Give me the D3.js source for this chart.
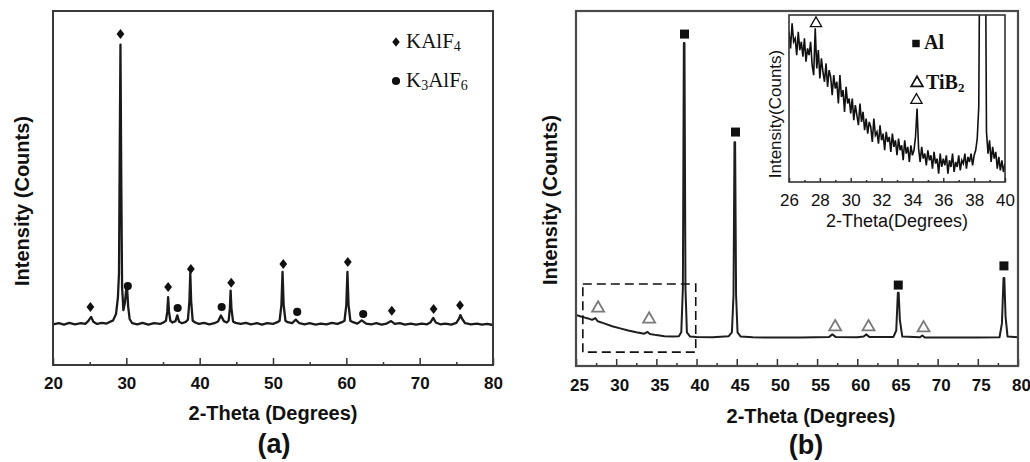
<!DOCTYPE html>
<html>
<head>
<meta charset="utf-8">
<script src="https://cdn.jsdelivr.net/npm/d3@7"></script>
<style>
  body { margin: 0; background: #fff; }
  svg { display: block; }
</style>
</head>
<body>
<div id="chart"></div>
<script>
// ---- panel (a): KAlF4 / K3AlF6 pattern ----
const aTheta = [20, 20.8, 21.5, 22.2, 23, 23.8, 24.4, 24.8, 25.2, 25.5, 26, 26.7, 27.3, 27.8, 28.2, 28.6, 28.85, 29.0, 29.1, 29.2, 29.3, 29.42, 29.6, 29.8, 30.0, 30.1, 30.25, 30.45, 30.8,
  31.5, 32.2, 33, 33.8, 34.6, 35.1, 35.4, 35.58, 35.7, 35.82, 36.0, 36.3, 36.7, 36.95, 37.2, 37.6, 38.1, 38.4, 38.6, 38.72, 38.84, 39.05, 39.4, 39.9,
  40.6, 41.3, 42, 42.5, 42.9, 43.3, 43.7, 43.95, 44.12, 44.22, 44.33, 44.55, 44.9, 45.6, 46.3, 47, 47.8, 48.5, 49.2, 50, 50.6, 50.9, 51.15, 51.3, 51.45, 51.7, 52, 52.6, 53.1, 53.6,
  54.3, 55, 55.8, 56.5, 57.3, 58, 58.8, 59.4, 59.75, 60.0, 60.15, 60.3, 60.55, 60.9, 61.5, 62.1, 62.7, 63.4, 64.1, 64.8, 65.5, 66.1, 66.6, 67.3, 68, 68.8, 69.5,
  70.3, 71, 71.5, 71.85, 72.2, 72.8, 73.5, 74.3, 75, 75.35, 75.55, 75.8, 76.2, 77, 77.8, 78.5, 79.2, 80];
const aCounts = [11.5, 11.8, 11.4, 11.9, 11.5, 11.8, 11.6, 12.4, 13.6, 12.2, 11.6, 11.9, 11.7, 12.2, 12.6, 14.5, 19, 26, 60, 90.5, 55, 22, 15.5, 17.5, 21.8, 21.8, 16.5, 13, 11.8,
  11.5, 11.9, 11.4, 11.8, 11.6, 12.1, 12.5, 15, 19.2, 15, 12.5, 12, 12.4, 14, 12.2, 11.8, 12.2, 12.8, 18, 26, 18, 12.5, 12, 11.6,
  11.9, 11.5, 11.8, 12.3, 14, 12.4, 12, 12.5, 16, 21, 16, 12.3, 11.9, 11.6, 11.9, 11.5, 11.8, 11.4, 11.8, 11.6, 12.1, 12.5, 17, 26.3, 17, 12.5, 12.1, 11.8, 12.8, 11.8,
  11.5, 11.8, 11.4, 11.7, 11.5, 11.9, 11.6, 12.1, 12.5, 17, 26.3, 17, 12.5, 12.1, 11.7, 12.6, 11.7, 11.5, 11.8, 11.4, 11.7, 12.4, 11.6, 11.8, 11.4, 11.7, 11.4,
  11.7, 11.5, 12.1, 13.3, 12.0, 11.5, 11.7, 11.4, 11.9, 13, 14.1, 13, 11.8, 11.5, 11.7, 11.4, 11.6, 11.3];
const aKAlF4Theta = [25.1, 29.2, 35.7, 38.8, 44.3, 51.4, 60.2, 66.2, 71.9, 75.5];
const aKAlF4Counts = [16.4, 93.5, 22, 27.1, 23.2, 28.5, 29.1, 15.3, 15.8, 16.9];
const aK3AlF6Theta = [30.2, 37.0, 43.0, 53.3, 62.3];
const aK3AlF6Counts = [22.3, 16.1, 16.4, 15, 14.4];
const aTicks = [20, 30, 40, 50, 60, 70, 80];
const aMinorTicks = [25, 35, 45, 55, 65, 75];

// ---- panel (b): Al / TiB2 pattern ----
const bTheta = [25, 25.5, 26, 26.5, 27, 27.4, 27.7, 28.5, 29.5, 30.5, 31.5, 32.5, 33.5, 33.9, 34.2, 35, 36, 37, 37.8, 38.1, 38.3, 38.42, 38.5, 38.62, 38.8, 39.2,
  40, 42, 44, 44.4, 44.6, 44.72, 44.8, 44.92, 45.1, 45.5, 47, 50, 53, 56.5, 56.9, 57.3, 60, 60.8, 61.1, 61.5, 64.5, 64.85, 65.05, 65.15, 65.3, 65.6,
  67.8, 68.1, 68.4, 71, 75, 77.7, 78.0, 78.2, 78.3, 78.45, 78.7, 80];
const bCounts = [14.4, 14.0, 13.7, 13.4, 13.0, 13.5, 12.6, 12.0, 11.2, 10.6, 10.0, 9.5, 9.1, 9.6, 9.0, 8.7, 8.4, 8.3, 8.4, 9.5, 22, 91, 91, 22, 9.5, 8.3,
  8.2, 8.1, 8.4, 9.5, 20, 63, 63, 20, 9.5, 8.3, 8.1, 8.0, 8.0, 8.2, 8.9, 8.2, 8.1, 8.3, 8.9, 8.2, 8.2, 10, 20.6, 20.6, 13, 8.3,
  8.1, 8.6, 8.0, 8.0, 8.0, 8.1, 12, 24.8, 24.8, 14, 8.3, 8.1];
const bAlTheta = [38.5, 44.85, 65.1, 78.25];
const bAlCounts = [93.5, 65.9, 22.8, 28.2];
const bTiB2Theta = [27.75, 34.1, 57.25, 61.4, 68.25];
const bTiB2Counts = [16.3, 13.2, 11, 11, 10.7];
const bTicks = [25, 30, 35, 40, 45, 50, 55, 60, 65, 70, 75, 80];
const bMinorTicks = [27.5, 32.5, 37.5, 42.5, 47.5, 52.5, 57.5, 62.5, 67.5, 72.5, 77.5];
const zoomBoxTheta = [25.85, 39.9];
const zoomBoxCounts = [3.9, 23.1];

// ---- inset of (b): 26-40 degrees ----
const insetStart = 26, insetStep = 0.1;
const insetCounts = [
  90, 80, 95, 84, 86, 76, 90, 79, 84, 75,
  86, 72, 80, 76, 84, 70, 64, 92, 68, 79,
  62, 74, 66, 60, 71, 57, 67, 63, 52, 64,
  56, 60, 47, 64, 51, 55, 42, 57, 47, 50,
  41, 50, 37, 46, 40, 34, 47, 36, 42, 31,
  38, 29, 36, 33, 24, 38, 28, 30, 23, 34,
  25, 29, 19, 30, 24, 27, 18, 29, 21, 25,
  16, 26, 19, 22, 13, 25, 17, 21, 12, 22,
  16, 19, 27, 44, 20, 12, 21, 14, 17, 10,
  19, 13, 16, 8, 18, 11, 14, 5, 17, 9,
  14, 10, 16, 5, 13, 9, 17, 6, 12, 9,
  16, 7, 13, 11, 17, 8, 15, 12, 17, 10,
  16, 19, 26, 45, 200, 220, 220, 200, 30, 17,
  25, 12, 21, 14, 18, 8, 15, 7, 13, 6,
  11];
const insetTiB2Theta = [27.75, 34.26];
const insetTiB2Counts = [95, 49];
const insetTicks = [26, 28, 30, 32, 34, 36, 38, 40];
const insetMinorTicks = [27, 29, 31, 33, 35, 37, 39];

const SANS = "'Liberation Sans', Arial, sans-serif";
const SERIF = "'Liberation Serif', 'Times New Roman', serif";

const svg = d3.select("#chart").append("svg").attr("width", 1030).attr("height", 462);

// tall diamond like the original markers
const tallDiamond = {
  draw(ctx, size) {
    const h = Math.sqrt(size) * 0.62, w = h * 0.78;
    ctx.moveTo(0, -h); ctx.lineTo(w, 0); ctx.lineTo(0, h); ctx.lineTo(-w, 0); ctx.closePath();
  }
};

function bottomTicks(g, x, y0, major, minor, majorLen, minorLen, fontSize, weight, pad, dx) {
  const ax = g.append("g").attr("transform", `translate(0,${y0})`)
    .call(d3.axisBottom(x).tickValues(major).tickSize(-majorLen).tickPadding(pad).tickFormat(d3.format("d")));
  ax.select(".domain").remove();
  ax.selectAll("line").attr("stroke", "#333").attr("stroke-width", 1.5);
  ax.selectAll("text").attr("font-family", SANS).attr("font-size", fontSize)
    .attr("font-weight", weight).attr("fill", "#111").attr("dx", dx);
  const mi = g.append("g").attr("transform", `translate(0,${y0})`)
    .call(d3.axisBottom(x).tickValues(minor).tickSize(-minorLen).tickFormat(""));
  mi.select(".domain").remove();
  mi.selectAll("line").attr("stroke", "#333").attr("stroke-width", 1.5);
}

// ================= panel (a) =================
const xA = d3.scaleLinear().domain([20, 80]).range([53, 493]);
const yA = d3.scaleLinear().domain([0, 100]).range([365, 11]);
const gA = svg.append("g");

gA.append("path")
  .datum(d3.zip(aTheta, aCounts))
  .attr("fill", "none").attr("stroke", "#1a1a1a").attr("stroke-width", 2.3).attr("stroke-linejoin", "round")
  .attr("d", d3.line().x(d => xA(d[0])).y(d => yA(d[1])));

gA.selectAll(".dia").data(d3.zip(aKAlF4Theta, aKAlF4Counts)).join("path")
  .attr("transform", d => `translate(${xA(d[0])},${yA(d[1])})`)
  .attr("d", d3.symbol(tallDiamond, 65)).attr("fill", "#111");
gA.selectAll(".cir").data(d3.zip(aK3AlF6Theta, aK3AlF6Counts)).join("path")
  .attr("transform", d => `translate(${xA(d[0])},${yA(d[1])})`)
  .attr("d", d3.symbol(d3.symbolCircle, 52)).attr("fill", "#111");

bottomTicks(gA, xA, 365, aTicks, aMinorTicks, 7, 3, 17, "bold", 12, 0);

gA.append("rect").attr("x", 53).attr("y", 11).attr("width", 440).attr("height", 354)
  .attr("fill", "none").attr("stroke", "#3a3a3a").attr("stroke-width", 2);

// legend (a)
gA.append("path").attr("transform", "translate(396,42)").attr("d", d3.symbol(tallDiamond, 60)).attr("fill", "#111");
gA.append("path").attr("transform", "translate(396,81)").attr("d", d3.symbol(d3.symbolCircle, 52)).attr("fill", "#111");
const l1 = gA.append("text").attr("x", 406).attr("y", 48).attr("font-family", SERIF).attr("font-size", 21).attr("fill", "#111");
l1.append("tspan").text("KAlF");
l1.append("tspan").text("4").attr("font-size", 14).attr("dy", 3);
const l2 = gA.append("text").attr("x", 406).attr("y", 87).attr("font-family", SERIF).attr("font-size", 21).attr("fill", "#111");
l2.append("tspan").text("K");
l2.append("tspan").text("3").attr("font-size", 14).attr("dy", 3);
l2.append("tspan").text("AlF").attr("dy", -3);
l2.append("tspan").text("6").attr("font-size", 14).attr("dy", 3);

gA.append("text").attr("transform", "translate(29,201) rotate(-90)").attr("text-anchor", "middle")
  .attr("font-family", SANS).attr("font-size", 20).attr("font-weight", "bold").attr("fill", "#111")
  .text("Intensity (Counts)");
gA.append("text").attr("x", 273).attr("y", 420).attr("text-anchor", "middle")
  .attr("font-family", SANS).attr("font-size", 20).attr("font-weight", "bold").attr("fill", "#111")
  .text("2-Theta (Degrees)");
gA.append("text").attr("x", 274).attr("y", 453).attr("text-anchor", "middle")
  .attr("font-family", SANS).attr("font-size", 27).attr("font-weight", "bold").attr("fill", "#111")
  .text("(a)");

// ================= panel (b) =================
const xB = d3.scaleLinear().domain([25, 80]).range([576, 1018]);
const yB = d3.scaleLinear().domain([0, 100]).range([366, 11]);
const gB = svg.append("g");

gB.append("path")
  .datum(d3.zip(bTheta, bCounts))
  .attr("fill", "none").attr("stroke", "#1e1e1e").attr("stroke-width", 2).attr("stroke-linejoin", "round")
  .attr("d", d3.line().x(d => xB(d[0])).y(d => yB(d[1])));

gB.selectAll(".sq").data(d3.zip(bAlTheta, bAlCounts)).join("path")
  .attr("transform", d => `translate(${xB(d[0])},${yB(d[1])})`)
  .attr("d", d3.symbol(d3.symbolSquare, 81)).attr("fill", "#111");
gB.selectAll(".tri").data(d3.zip(bTiB2Theta, bTiB2Counts)).join("path")
  .attr("transform", d => `translate(${xB(d[0])},${yB(d[1])})`)
  .attr("d", d3.symbol(d3.symbolTriangle, 62)).attr("fill", "#fff")
  .attr("stroke", "#7a7a7a").attr("stroke-width", 1.8);

gB.append("rect")
  .attr("x", xB(zoomBoxTheta[0])).attr("y", yB(zoomBoxCounts[1]))
  .attr("width", xB(zoomBoxTheta[1]) - xB(zoomBoxTheta[0]))
  .attr("height", yB(zoomBoxCounts[0]) - yB(zoomBoxCounts[1]))
  .attr("fill", "none").attr("stroke", "#111").attr("stroke-width", 1.6).attr("stroke-dasharray", "9,5");

bottomTicks(gB, xB, 366, bTicks, bMinorTicks, 7, 3, 17, "bold", 13, 3);

gB.append("rect").attr("x", 576).attr("y", 11).attr("width", 442).attr("height", 355)
  .attr("fill", "none").attr("stroke", "#4a4a4a").attr("stroke-width", 2.2);

gB.append("text").attr("transform", "translate(557,200) rotate(-90)").attr("text-anchor", "middle")
  .attr("font-family", SANS).attr("font-size", 20).attr("font-weight", "bold").attr("fill", "#111")
  .text("Intensity (Counts)");
gB.append("text").attr("x", 811).attr("y", 423).attr("text-anchor", "middle")
  .attr("font-family", SANS).attr("font-size", 20).attr("font-weight", "bold").attr("fill", "#111")
  .text("2-Theta (Degrees)");
gB.append("text").attr("x", 806).attr("y", 454).attr("text-anchor", "middle")
  .attr("font-family", SANS).attr("font-size", 27).attr("font-weight", "bold").attr("fill", "#111")
  .text("(b)");

// ================= inset =================
const xI = d3.scaleLinear().domain([26, 40]).range([789, 1005]);
const yI = d3.scaleLinear().domain([0, 100]).range([182, 15]);
const gI = svg.append("g");

gI.append("clipPath").attr("id", "insetClip")
  .append("rect").attr("x", 789).attr("y", 15).attr("width", 216).attr("height", 167);

gI.append("path")
  .datum(insetCounts.map((v, i) => [insetStart + i * insetStep, v]))
  .attr("clip-path", "url(#insetClip)")
  .attr("fill", "none").attr("stroke", "#111").attr("stroke-width", 1.6).attr("stroke-linejoin", "miter")
  .attr("d", d3.line().x(d => xI(d[0])).y(d => yI(d[1])));

gI.selectAll(".itri").data(d3.zip(insetTiB2Theta, insetTiB2Counts)).join("path")
  .attr("transform", d => `translate(${xI(d[0])},${yI(d[1])})`)
  .attr("d", d3.symbol(d3.symbolTriangle, 55)).attr("fill", "#fff")
  .attr("stroke", "#111").attr("stroke-width", 1.3);

bottomTicks(gI, xI, 182, insetTicks, insetMinorTicks, 4, 2, 17, "normal", 12, 0);

gI.append("rect").attr("x", 789).attr("y", 15).attr("width", 216).attr("height", 167)
  .attr("fill", "none").attr("stroke", "#333").attr("stroke-width", 1.6);

// legend inset
gI.append("path").attr("transform", "translate(916,43.5)").attr("d", d3.symbol(d3.symbolSquare, 56)).attr("fill", "#111");
gI.append("path").attr("transform", "translate(917,83)").attr("d", d3.symbol(d3.symbolTriangle, 60))
  .attr("fill", "#fff").attr("stroke", "#111").attr("stroke-width", 1.7);
gI.append("text").attr("x", 924).attr("y", 49).attr("font-family", SERIF).attr("font-size", 20)
  .attr("font-weight", "bold").attr("fill", "#111").text("Al");
const l3 = gI.append("text").attr("x", 926).attr("y", 89).attr("font-family", SERIF).attr("font-size", 20)
  .attr("font-weight", "bold").attr("fill", "#111");
l3.append("tspan").text("TiB");
l3.append("tspan").text("2").attr("font-size", 13).attr("dy", 3);

gI.append("text").attr("transform", "translate(781,114) rotate(-90)").attr("text-anchor", "middle")
  .attr("font-family", SANS).attr("font-size", 17).attr("fill", "#111")
  .text("Intensity(Counts)");
gI.append("text").attr("x", 897).attr("y", 227).attr("text-anchor", "middle")
  .attr("font-family", SANS).attr("font-size", 18).attr("fill", "#111")
  .text("2-Theta(Degrees)");
</script>
</body>
</html>
